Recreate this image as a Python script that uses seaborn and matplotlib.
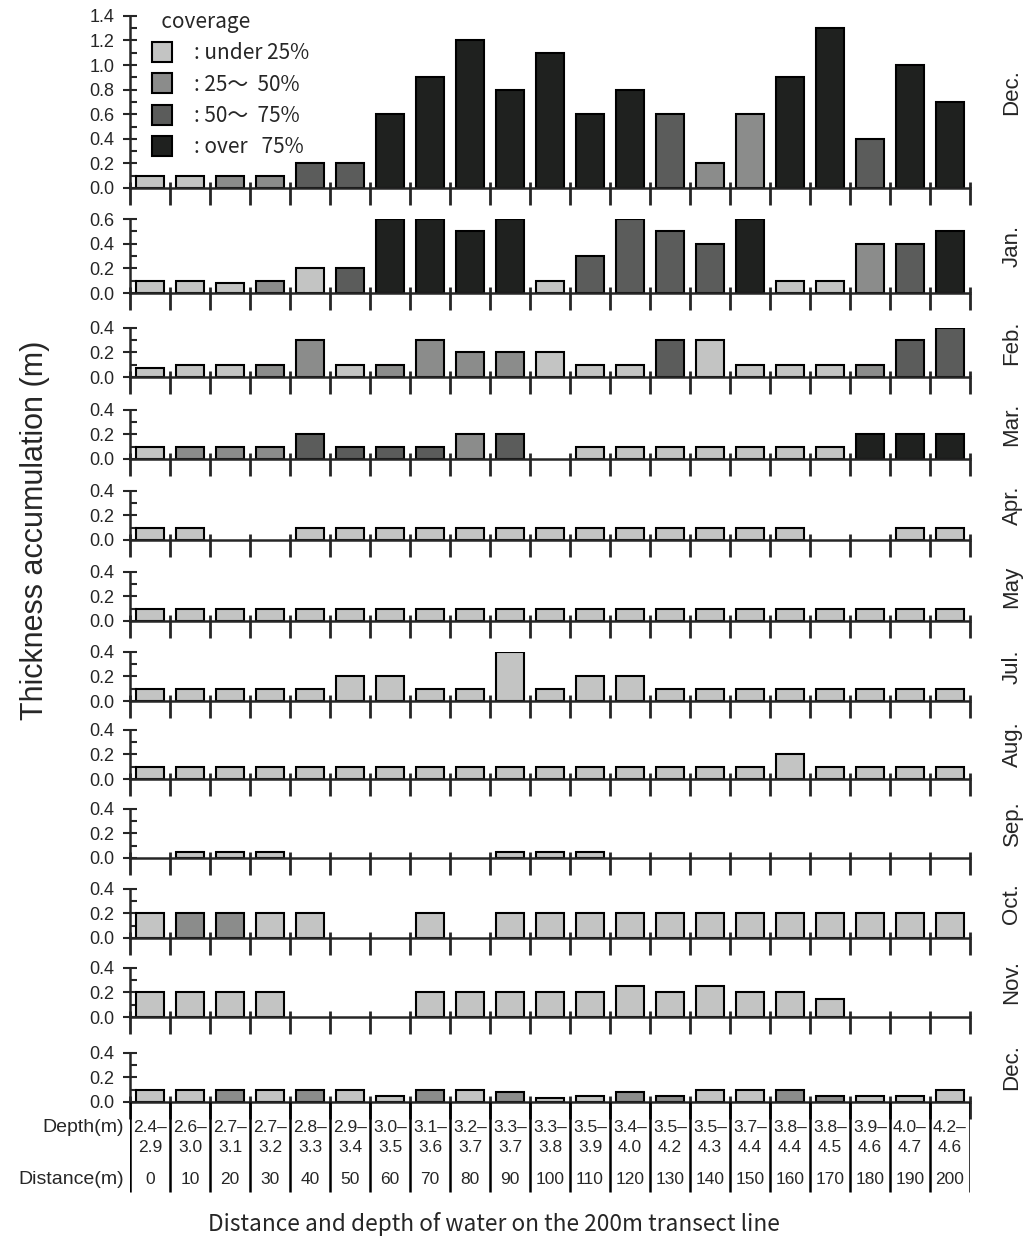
import numpy as np
import pandas as pd
import matplotlib
matplotlib.use('Agg')
import matplotlib.pyplot as plt
from matplotlib.patches import Patch
from matplotlib.ticker import MultipleLocator, FormatStrFormatter
import seaborn as sns

# transect positions
distance = [0, 10, 20, 30, 40, 50, 60, 70, 80, 90, 100,
            110, 120, 130, 140, 150, 160, 170, 180, 190, 200]
depth_lo = ['2.4', '2.6', '2.7', '2.7', '2.8', '2.9', '3.0', '3.1', '3.2', '3.3', '3.3',
            '3.5', '3.4', '3.5', '3.5', '3.7', '3.8', '3.8', '3.9', '4.0', '4.2']
depth_hi = ['2.9', '3.0', '3.1', '3.2', '3.3', '3.4', '3.5', '3.6', '3.7', '3.7', '3.8',
            '3.9', '4.0', '4.2', '4.3', '4.4', '4.4', '4.5', '4.6', '4.7', '4.6']

cov_names = ['under 25%', '25-50%', '50-75%', 'over 75%']
cov_labels = [': under 25%', ': 25\u301c  50%', ': 50\u301c  75%', ': over   75%']
cov_colors = ['#c3c4c3', '#8b8c8b', '#5b5c5b', '#1f211f']

# thickness (m) and coverage class (1..4) per month
dec1_h = [0.1, 0.1, 0.1, 0.1, 0.2, 0.2, 0.6, 0.9, 1.2, 0.8, 1.1, 0.6, 0.8, 0.6, 0.2, 0.6, 0.9, 1.3, 0.4, 1.0, 0.7]
dec1_c = [1, 1, 2, 2, 3, 3, 4, 4, 4, 4, 4, 4, 4, 3, 2, 2, 4, 4, 3, 4, 4]
jan_h = [0.1, 0.1, 0.08, 0.1, 0.2, 0.2, 0.6, 0.6, 0.5, 0.6, 0.1, 0.3, 0.6, 0.5, 0.4, 0.6, 0.1, 0.1, 0.4, 0.4, 0.5]
jan_c = [1, 1, 1, 2, 1, 3, 4, 4, 4, 4, 1, 3, 3, 3, 3, 4, 1, 1, 2, 3, 4]
feb_h = [0.07, 0.1, 0.1, 0.1, 0.3, 0.1, 0.1, 0.3, 0.2, 0.2, 0.2, 0.1, 0.1, 0.3, 0.3, 0.1, 0.1, 0.1, 0.1, 0.3, 0.4]
feb_c = [1, 1, 1, 2, 2, 1, 2, 2, 2, 2, 1, 1, 1, 3, 1, 1, 1, 1, 2, 3, 3]
mar_h = [0.1, 0.1, 0.1, 0.1, 0.2, 0.1, 0.1, 0.1, 0.2, 0.2, 0, 0.1, 0.1, 0.1, 0.1, 0.1, 0.1, 0.1, 0.2, 0.2, 0.2]
mar_c = [1, 2, 2, 2, 3, 3, 3, 3, 2, 3, 1, 1, 1, 1, 1, 1, 1, 1, 4, 4, 4]
apr_h = [0.1, 0.1, 0, 0, 0.1, 0.1, 0.1, 0.1, 0.1, 0.1, 0.1, 0.1, 0.1, 0.1, 0.1, 0.1, 0.1, 0, 0, 0.1, 0.1]
apr_c = [1] * 21
may_h = [0.1, 0.1, 0.1, 0.1, 0.1, 0.1, 0.1, 0.1, 0.1, 0.1, 0.1, 0.1, 0.1, 0.1, 0.1, 0.1, 0.1, 0.1, 0.1, 0.1, 0.1]
may_c = [1] * 21
jul_h = [0.1, 0.1, 0.1, 0.1, 0.1, 0.2, 0.2, 0.1, 0.1, 0.4, 0.1, 0.2, 0.2, 0.1, 0.1, 0.1, 0.1, 0.1, 0.1, 0.1, 0.1]
jul_c = [1] * 21
aug_h = [0.1, 0.1, 0.1, 0.1, 0.1, 0.1, 0.1, 0.1, 0.1, 0.1, 0.1, 0.1, 0.1, 0.1, 0.1, 0.1, 0.2, 0.1, 0.1, 0.1, 0.1]
aug_c = [1] * 21
sep_h = [0, 0.05, 0.05, 0.05, 0, 0, 0, 0, 0, 0.05, 0.05, 0.05, 0, 0, 0, 0, 0, 0, 0, 0, 0]
sep_c = [1] * 21
oct_h = [0.2, 0.2, 0.2, 0.2, 0.2, 0, 0, 0.2, 0, 0.2, 0.2, 0.2, 0.2, 0.2, 0.2, 0.2, 0.2, 0.2, 0.2, 0.2, 0.2]
oct_c = [1, 2, 2, 1, 1, 1, 1, 1, 1, 1, 1, 1, 1, 1, 1, 1, 1, 1, 1, 1, 1]
nov_h = [0.2, 0.2, 0.2, 0.2, 0, 0, 0, 0.2, 0.2, 0.2, 0.2, 0.2, 0.25, 0.2, 0.25, 0.2, 0.2, 0.15, 0, 0, 0]
nov_c = [1] * 21
dec2_h = [0.1, 0.1, 0.1, 0.1, 0.1, 0.1, 0.05, 0.1, 0.1, 0.08, 0.035, 0.05, 0.08, 0.05, 0.1, 0.1, 0.1, 0.05, 0.05, 0.05, 0.1]
dec2_c = [1, 1, 2, 1, 2, 1, 1, 2, 1, 2, 1, 1, 2, 2, 1, 1, 2, 2, 1, 1, 1]

months = ['Dec.', 'Jan.', 'Feb.', 'Mar.', 'Apr.', 'May', 'Jul.', 'Aug.', 'Sep.', 'Oct.', 'Nov.', 'Dec.']
heights = [dec1_h, jan_h, feb_h, mar_h, apr_h, may_h, jul_h, aug_h, sep_h, oct_h, nov_h, dec2_h]
covers = [dec1_c, jan_c, feb_c, mar_c, apr_c, may_c, jul_c, aug_c, sep_c, oct_c, nov_c, dec2_c]
ymax = [1.4, 0.6, 0.4, 0.4, 0.4, 0.4, 0.4, 0.4, 0.4, 0.4, 0.4, 0.4]

# layout in pixels
W, H = 1027, 1237
x0, x1 = 130, 970
scale = 123  # px per metre
baselines = [188, 293, 377, 459, 540, 621, 701, 779, 858, 938, 1017, 1102]

sns.set_style('ticks')
plt.rcParams['font.family'] = ['Liberation Sans', 'Noto Sans CJK JP']
palette = dict(zip(cov_names, cov_colors))
dist_labels = [str(d) for d in distance]

fig = plt.figure(figsize=(W / 100, H / 100), dpi=100)

axes = []
for i in range(len(months)):
    base = baselines[i]
    hpx = ymax[i] * scale
    ax = fig.add_axes([x0 / W, 1 - base / H, (x1 - x0) / W, hpx / H])
    df = pd.DataFrame({'dist': dist_labels, 'h': heights[i],
                       'cov': [cov_names[c - 1] for c in covers[i]]})
    df = df[df['h'] > 0]
    sns.barplot(data=df, x='dist', y='h', hue='cov', order=dist_labels,
                hue_order=cov_names, palette=palette, dodge=False, width=0.7,
                edgecolor='black', linewidth=1.5, saturation=1, legend=False, ax=ax)
    ax.set_xlim(-0.5, 20.5)
    ax.set_ylim(0, ymax[i])
    ax.set_xlabel('')
    ax.set_ylabel('')
    ax.xaxis.remove_overlapping_locs = False
    ax.set_xticks(np.arange(-0.5, 21, 1))
    ax.set_xticks(np.arange(-0.5, 21, 1), minor=True)
    ax.tick_params(axis='x', which='major', direction='out', length=12, width=2, labelbottom=False)
    ax.tick_params(axis='x', which='minor', direction='in', length=4, width=2)
    ax.yaxis.set_major_locator(MultipleLocator(0.2))
    ax.yaxis.set_minor_locator(MultipleLocator(0.1))
    ax.yaxis.set_major_formatter(FormatStrFormatter('%.1f'))
    ax.tick_params(axis='y', which='major', direction='inout', length=10, width=1.5,
                   labelsize=13, pad=6)
    ax.tick_params(axis='y', which='minor', direction='in', length=5, width=1.5)
    sns.despine(ax=ax)
    for s in ['left', 'bottom']:
        ax.spines[s].set_linewidth(1.8)
    fig.text(1012 / W, 1 - (base - hpx / 2 - 10) / H, months[i], rotation=90,
             ha='center', va='center', fontsize=16)
    axes.append(ax)

# legend in the top panel
handles = [Patch(facecolor=palette[c], edgecolor='black', linewidth=1.5) for c in cov_names]
leg = axes[0].legend(handles, cov_labels, title='  coverage', loc='upper left',
                     bbox_to_anchor=((152 - x0) / (x1 - x0), 1.03), frameon=False,
                     prop={'family': ['Noto Sans CJK JP'], 'size': 15},
                     title_fontproperties={'family': ['Noto Sans CJK JP'], 'size': 15},
                     handlelength=0.95, handleheight=1.1, handletextpad=1.05,
                     labelspacing=0.45, borderpad=0, borderaxespad=0, alignment='left')

# depth / distance table under the last panel
tax = fig.add_axes([x0 / W, 1 - 1195 / H, (x1 - x0) / W, (1195 - 1102) / H])
tax.set_xlim(-0.5, 20.5)
tax.set_ylim(0, 93)
tax.axis('off')
tax.vlines(np.arange(-0.5, 21, 1), 3, 93, colors='black', linewidth=1.8)
for j in range(len(distance)):
    tax.text(j, 67, depth_lo[j] + '\u2013', ha='center', va='center', fontsize=12.5)
    tax.text(j, 47, depth_hi[j], ha='center', va='center', fontsize=12.5)
    tax.text(j, 15, dist_labels[j], ha='center', va='center', fontsize=12.5)
tax.text(-0.65, 67, 'Depth(m)', ha='right', va='center', fontsize=14)
tax.text(-0.65, 15, 'Distance(m)', ha='right', va='center', fontsize=14)

fig.text(35 / W, 1 - 530 / H, 'Thickness accumulation (m)', rotation=90,
         ha='center', va='center', fontsize=22)
fig.text(494 / W, 1 - 1224 / H, 'Distance and depth of water on the 200m transect line',
         ha='center', va='center', fontsize=16.3, family=['Noto Sans CJK JP'])

fig.savefig('out.png', dpi=100)
